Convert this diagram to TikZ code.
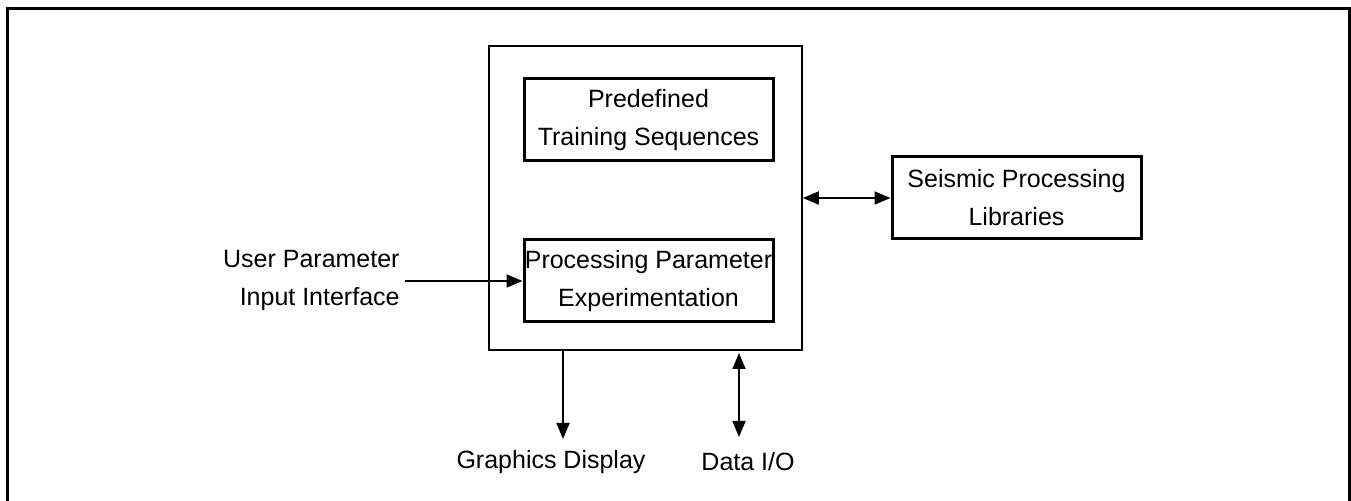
\documentclass[tikz,border=0pt]{standalone}
\usepackage{fontspec}
\setmainfont{Liberation Sans}
\usetikzlibrary{arrows.meta}

\tikzset{
  blockbox/.style={draw, line width=1.5pt, minimum width=124.5pt, minimum height=41pt, align=center, inner sep=0pt},
  hostbox/.style={draw, line width=0.8pt, minimum width=156.5pt, minimum height=152pt, inner sep=0pt},
  textlabel/.style={align=center, inner sep=0pt},
  link/.style={line width=0.9pt, -{Triangle[length=8pt,width=6.5pt]}},
  duallink/.style={line width=0.9pt, {Triangle[length=8pt,width=6.5pt]}-{Triangle[length=8pt,width=6.5pt]}}
}

\begin{document}
\begin{tikzpicture}[x=0.5pt, y=-0.5pt, font=\fontsize{12.5}{19}\selectfont]
  \useasboundingbox (0,0) rectangle (1351,501);
  \draw[line width=1.5pt] (7,501) -- (7,9) -- (1349,9) -- (1349,501);

  \node[hostbox] (host) at (645.5,198) {};
  \node[blockbox] (train) at (648.5,120) {Predefined\\Training Sequences};
  \node[blockbox] (expt) at (648.5,281) {Processing Parameter\\Experimentation};
  \node[blockbox] (seis) at (1016.5,198) {Seismic Processing\\Libraries};

  \node[textlabel, align=right, anchor=east] (user) at (400,281) {User Parameter\\Input Interface};
  \node[textlabel] (gfx) at (551,462) {Graphics Display};
  \node[textlabel] (dio) at (748,462) {Data I/O};

  \coordinate (gtop) at (563,350);
  \coordinate (gend) at (563,439);
  \coordinate (dtop) at (739,353);
  \coordinate (dend) at (739,437);

  \draw[link] (user.east) ++(5,0) -- (expt.west);
  \draw[duallink] (host.east) -- (seis.west);
  \draw[link] (gtop) -- (gend);
  \draw[duallink] (dtop) -- (dend);
\end{tikzpicture}
\end{document}
